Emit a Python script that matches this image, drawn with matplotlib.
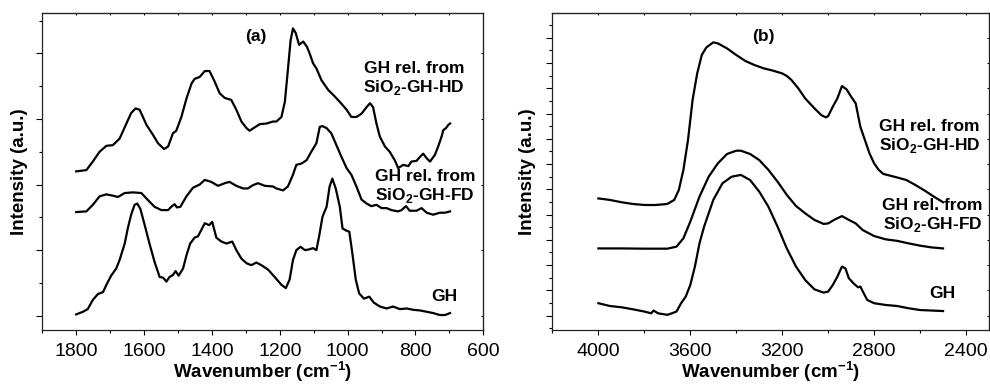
import matplotlib
matplotlib.use("Agg")
import matplotlib.pyplot as plt
from matplotlib.ticker import MultipleLocator

plt.rcParams['font.family'] = ['Liberation Sans', 'DejaVu Sans']
plt.rcParams['mathtext.fontset'] = 'custom'
plt.rcParams['mathtext.rm'] = 'Liberation Sans'
plt.rcParams['mathtext.bf'] = 'Liberation Sans:bold'

# ---- panel (a): fingerprint region ----
a_gh_x = [1800, 1780, 1766, 1751, 1736, 1721, 1711, 1697, 1682, 1672, 1657, 1648, 1638, 1628,
          1620, 1611, 1598, 1584, 1569, 1554, 1544, 1534, 1525, 1515, 1507, 1498, 1485, 1475,
          1464, 1451, 1441, 1431, 1421, 1408, 1399, 1387, 1372, 1357, 1340, 1328, 1313, 1298,
          1284, 1269, 1254, 1234, 1215, 1195, 1182, 1171, 1161, 1151, 1139, 1126, 1114, 1102,
          1092, 1084, 1074, 1062, 1053, 1045, 1035, 1023, 1015, 1005, 995, 986, 976, 966, 952,
          936, 923, 905, 885, 866, 846, 826, 807, 787, 767, 748, 728, 713, 698]
a_gh_y = [0.02, 0.06, 0.10, 0.24, 0.33, 0.36, 0.47, 0.61, 0.72, 0.85, 1.10, 1.33, 1.54, 1.69,
          1.71, 1.63, 1.38, 1.10, 0.82, 0.59, 0.58, 0.52, 0.59, 0.62, 0.68, 0.61, 0.72, 0.92,
          1.10, 1.19, 1.21, 1.31, 1.41, 1.38, 1.43, 1.19, 1.13, 1.10, 1.13, 1.00, 0.87, 0.80,
          0.77, 0.81, 0.77, 0.70, 0.59, 0.47, 0.42, 0.55, 0.85, 1.00, 1.05, 1.00, 1.01, 1.03,
          1.00, 1.21, 1.51, 1.66, 1.97, 2.09, 1.94, 1.66, 1.33, 1.30, 1.28, 0.95, 0.55, 0.34,
          0.26, 0.29, 0.20, 0.14, 0.11, 0.14, 0.10, 0.11, 0.09, 0.08, 0.06, 0.04, 0.01, 0.01, 0.04]

a_fd_x = [1800, 1770, 1751, 1731, 1711, 1692, 1677, 1657, 1633, 1608, 1588, 1569, 1549, 1529,
          1520, 1510, 1503, 1493, 1475, 1456, 1436, 1421, 1402, 1382, 1362, 1348, 1328, 1308,
          1294, 1279, 1264, 1244, 1220, 1210, 1190, 1176, 1161, 1151, 1136, 1121, 1107, 1092,
          1082, 1074, 1062, 1048, 1033, 1018, 1003, 989, 974, 959, 944, 930, 915, 900, 885, 871,
          851, 841, 828, 817, 797, 782, 767, 748, 728, 713, 698]
a_fd_y = [1.58, 1.59, 1.69, 1.82, 1.85, 1.83, 1.81, 1.87, 1.88, 1.87, 1.76, 1.66, 1.61, 1.61,
          1.66, 1.70, 1.65, 1.66, 1.82, 1.95, 2.00, 2.07, 2.04, 1.98, 2.02, 2.04, 1.98, 1.94,
          1.94, 1.99, 2.02, 1.98, 1.97, 1.94, 1.91, 1.97, 2.15, 2.30, 2.32, 2.37, 2.50, 2.63,
          2.88, 2.89, 2.86, 2.78, 2.60, 2.42, 2.25, 2.15, 1.97, 1.77, 1.71, 1.67, 1.69, 1.64,
          1.64, 1.61, 1.59, 1.61, 1.67, 1.60, 1.60, 1.64, 1.57, 1.54, 1.57, 1.57, 1.59]

a_hd_x = [1800, 1770, 1751, 1731, 1711, 1692, 1672, 1652, 1638, 1625, 1613, 1593, 1574, 1559,
          1541, 1529, 1515, 1505, 1490, 1475, 1460, 1451, 1436, 1421, 1407, 1392, 1377, 1362,
          1343, 1328, 1313, 1298, 1289, 1274, 1259, 1239, 1220, 1210, 1195, 1185, 1176, 1168,
          1161, 1153, 1143, 1131, 1120, 1112, 1102, 1092, 1077, 1057, 1043, 1023, 1003, 989,
          974, 959, 944, 934, 925, 915, 905, 890, 876, 861, 851, 836, 821, 812, 797, 787, 777,
          767, 757, 743, 733, 723, 718, 710, 703, 698]
a_hd_y = [2.20, 2.22, 2.35, 2.50, 2.59, 2.60, 2.70, 2.93, 3.09, 3.16, 3.14, 2.91, 2.76, 2.63,
          2.54, 2.58, 2.78, 2.82, 3.03, 3.31, 3.54, 3.61, 3.64, 3.73, 3.73, 3.57, 3.39, 3.32,
          3.29, 3.14, 2.96, 2.86, 2.82, 2.87, 2.92, 2.93, 2.96, 2.96, 3.03, 3.26, 3.75, 4.20,
          4.38, 4.31, 4.13, 4.18, 4.10, 4.00, 3.85, 3.77, 3.59, 3.44, 3.37, 3.26, 3.14, 3.03,
          3.03, 3.08, 3.18, 3.24, 3.18, 2.93, 2.73, 2.58, 2.50, 2.37, 2.25, 2.30, 2.28, 2.35,
          2.36, 2.42, 2.47, 2.40, 2.35, 2.45, 2.58, 2.73, 2.83, 2.86, 2.91, 2.93]

# ---- panel (b): OH / CH stretching region ----
b_gh_x = [4000, 3950, 3900, 3850, 3800, 3770, 3760, 3740, 3700, 3680, 3660, 3640, 3620, 3600,
          3580, 3560, 3540, 3500, 3460, 3420, 3380, 3340, 3300, 3260, 3220, 3180, 3140, 3100,
          3060, 3020, 3000, 2980, 2960, 2940, 2925, 2910, 2890, 2870, 2860, 2845, 2830, 2800,
          2750, 2700, 2650, 2600, 2550, 2500]
b_gh_y = [0.49, 0.38, 0.33, 0.25, 0.16, 0.09, 0.20, 0.09, 0.03, 0.09, 0.16, 0.49, 0.75, 1.21,
          1.94, 2.86, 3.52, 4.58, 5.24, 5.50, 5.57, 5.37, 4.91, 4.31, 3.52, 2.66, 1.94, 1.41,
          1.04, 0.91, 0.95, 1.21, 1.54, 1.94, 1.87, 1.48, 1.28, 1.12, 1.15, 0.88, 0.62, 0.49,
          0.42, 0.38, 0.29, 0.22, 0.20, 0.18]

b_fd_x = [4000, 3900, 3800, 3700, 3660, 3630, 3600, 3560, 3520, 3480, 3440, 3400, 3380, 3340,
          3300, 3260, 3220, 3180, 3140, 3100, 3060, 3020, 3000, 2970, 2940, 2910, 2880, 2850,
          2800, 2750, 2700, 2650, 2600, 2550, 2500]
b_fd_y = [2.66, 2.66, 2.65, 2.65, 2.73, 3.06, 3.72, 4.71, 5.50, 6.03, 6.40, 6.53, 6.53, 6.40,
          6.16, 5.77, 5.30, 4.78, 4.34, 4.05, 3.79, 3.63, 3.65, 3.81, 3.94, 3.79, 3.65, 3.39,
          3.15, 3.02, 2.96, 2.86, 2.77, 2.70, 2.66]

b_hd_x = [4000, 3950, 3900, 3850, 3800, 3750, 3700, 3670, 3650, 3630, 3610, 3590, 3570, 3550,
          3530, 3500, 3480, 3440, 3400, 3360, 3320, 3280, 3240, 3200, 3180, 3160, 3130, 3100,
          3060, 3030, 3010, 3000, 2980, 2960, 2940, 2920, 2900, 2880, 2860, 2840, 2820, 2800,
          2780, 2760, 2730, 2700, 2660, 2620, 2580, 2540, 2500]
b_hd_y = [4.64, 4.58, 4.49, 4.42, 4.38, 4.38, 4.42, 4.58, 4.97, 5.77, 6.95, 8.54, 9.59, 10.32,
          10.62, 10.82, 10.78, 10.58, 10.32, 10.08, 9.92, 9.79, 9.70, 9.59, 9.49, 9.33, 9.00,
          8.60, 8.21, 7.94, 7.85, 7.90, 8.27, 8.60, 9.09, 8.96, 8.67, 8.40, 7.48, 6.95, 6.42,
          6.03, 5.77, 5.61, 5.54, 5.47, 5.37, 5.17, 4.95, 4.71, 4.49]

label_hd = 'GH rel. from\nSiO$_\\mathbf{2}$-GH-HD'
label_fd = 'GH rel. from\nSiO$_\\mathbf{2}$-GH-FD'
fs_note = 12.5


def style_axes(ax, xmajor, xminor, ymajor, yminor, ylabelpad):
    ax.xaxis.set_major_locator(MultipleLocator(xmajor))
    ax.xaxis.set_minor_locator(MultipleLocator(xminor))
    ax.yaxis.set_major_locator(MultipleLocator(ymajor))
    ax.yaxis.set_minor_locator(MultipleLocator(yminor))
    ax.set_yticklabels([])
    ax.tick_params(axis='x', which='major', direction='out', length=3.5, width=0.8,
                   labelsize=14, pad=6)
    ax.tick_params(axis='x', which='minor', direction='out', length=2.5, width=0.8)
    ax.tick_params(axis='y', which='major', direction='out', length=4.5, width=0.8)
    ax.tick_params(axis='y', which='minor', direction='out', length=2.4, width=0.8)
    for s in ax.spines.values():
        s.set_linewidth(0.9)
        s.set_color('#222222')
    # tiny inward ticks on the top and right frame
    top = ax.secondary_xaxis('top')
    top.xaxis.set_major_locator(MultipleLocator(xminor))
    top.tick_params(direction='in', length=1.5, width=0.7, labeltop=False)
    right = ax.secondary_yaxis('right')
    right.yaxis.set_major_locator(MultipleLocator(ymajor))
    right.tick_params(direction='in', length=1.5, width=0.7, labelright=False)
    ax.set_xlabel('Wavenumber (cm$^{\\mathbf{-1}}$)', fontsize=13.5, fontweight='bold',
                  labelpad=-1)
    ax.set_ylabel('Intensity (a.u.)', fontsize=13.5, fontweight='bold', labelpad=ylabelpad)


fig = plt.figure(figsize=(9.9, 3.85), dpi=100)
ax1 = fig.add_axes([0.0427, 0.1429, 0.4455, 0.8225])
ax2 = fig.add_axes([0.558, 0.1429, 0.441, 0.8225])

lw = 1.6
ax1.plot(a_gh_x, a_gh_y, color='black', lw=lw)
ax1.plot(a_fd_x, a_fd_y, color='black', lw=lw)
ax1.plot(a_hd_x, a_hd_y, color='black', lw=lw)
ax1.set_xlim(1900, 600)
ax1.set_ylim(-0.218, 4.61)
style_axes(ax1, 200, 100, 1, 0.5, 2)
ax1.text(0.484, 0.95, '(a)', transform=ax1.transAxes, ha='center', va='top',
         fontsize=fs_note, fontweight='bold')
ax1.text(805, 3.61, label_hd, ha='center', va='center', fontsize=fs_note, fontweight='bold',
         linespacing=1.1)
ax1.text(772, 1.96, label_fd, ha='center', va='center', fontsize=fs_note, fontweight='bold',
         linespacing=1.1)
ax1.text(716, 0.30, 'GH', ha='center', va='center', fontsize=fs_note, fontweight='bold')

ax2.plot(b_gh_x, b_gh_y, color='black', lw=lw)
ax2.plot(b_fd_x, b_fd_y, color='black', lw=lw)
ax2.plot(b_hd_x, b_hd_y, color='black', lw=lw)
ax2.set_xlim(4200, 2300)
ax2.set_ylim(-0.57, 11.97)
style_axes(ax2, 400, 200, 1, 0.5, 4)
ax2.text(0.484, 0.95, '(b)', transform=ax2.transAxes, ha='center', va='top',
         fontsize=fs_note, fontweight='bold')
ax2.text(2559, 7.08, label_hd, ha='center', va='center', fontsize=fs_note, fontweight='bold',
         linespacing=1.1)
ax2.text(2545, 3.94, label_fd, ha='center', va='center', fontsize=fs_note, fontweight='bold',
         linespacing=1.1)
ax2.text(2504, 0.86, 'GH', ha='center', va='center', fontsize=fs_note, fontweight='bold')

fig.savefig('out.png', dpi=100)
